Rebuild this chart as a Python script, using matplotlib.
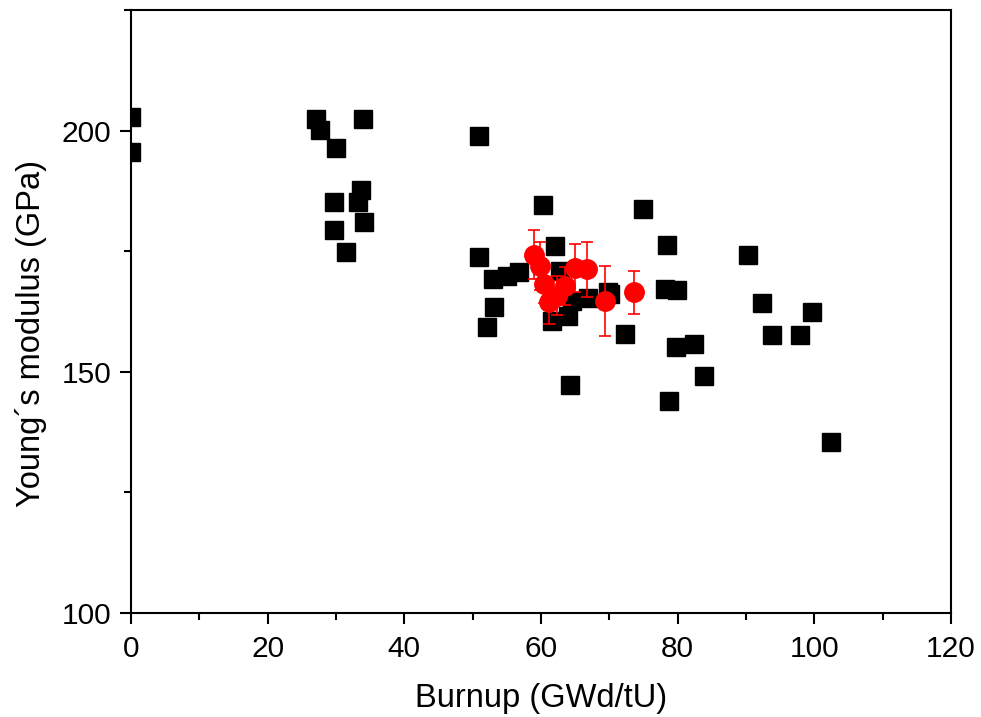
import matplotlib
matplotlib.use("Agg")
import matplotlib.pyplot as plt
from matplotlib.ticker import MultipleLocator

plt.rcParams['font.family'] = ['Liberation Sans', 'DejaVu Sans']

# literature data (black squares)
lit_burnup = [0.0, 0.0, 27.1, 27.7, 30.0, 29.7, 29.7, 31.5, 34.0, 33.2, 33.7, 34.1,
              50.9, 50.9, 52.1, 53.0, 53.1, 55.0, 56.8, 60.3, 62.0, 64.2,
              62.8, 66.9, 69.8, 64.5, 64.0, 61.6, 70.1, 72.3,
              74.9, 78.4, 78.1, 79.9, 78.7, 79.8, 82.4, 83.9,
              90.3, 92.3, 93.8, 97.9, 99.7, 102.4]
lit_modulus = [202.9, 195.6, 202.5, 200.2, 196.3, 185.3, 179.3, 174.9, 202.5, 185.3, 187.6, 181.1,
               198.8, 173.9, 159.3, 169.3, 163.5, 169.9, 170.7, 184.6, 176.1, 147.3,
               171.0, 165.4, 166.5, 164.7, 161.6, 160.6, 166.1, 157.8,
               183.8, 176.3, 167.2, 167.0, 144.0, 155.2, 155.8, 149.2,
               174.3, 164.3, 157.7, 157.7, 162.4, 135.5]

# this work (red circles with error bars)
new_burnup = [58.9, 59.9, 60.4, 61.1, 62.3, 63.5, 65.0, 66.8, 69.4, 73.6]
new_modulus = [174.3, 172.0, 168.2, 164.4, 165.8, 167.8, 171.6, 171.3, 164.7, 166.5]
new_err = [5.0, 5.0, 4.0, 4.5, 4.0, 4.0, 5.0, 5.7, 7.2, 4.5]

fig = plt.figure(figsize=(9.81, 7.17), dpi=100)
ax = fig.add_axes([0.1335, 0.145, 0.836, 0.841])

ax.plot(lit_burnup, lit_modulus, 's', color='black', markersize=12.5, zorder=2)
ax.errorbar(new_burnup, new_modulus, yerr=new_err, fmt='o', color='red',
            ecolor='red', elinewidth=1.2, capsize=4.5, capthick=1.2,
            markersize=14, zorder=3)

ax.set_xlim(0, 120)
ax.set_ylim(100, 225)
ax.xaxis.set_major_locator(MultipleLocator(20))
ax.xaxis.set_minor_locator(MultipleLocator(10))
ax.yaxis.set_major_locator(MultipleLocator(50))
ax.yaxis.set_minor_locator(MultipleLocator(25))
ax.tick_params(which='major', direction='out', length=8, width=1.5, labelsize=21.5)
ax.tick_params(which='minor', direction='out', length=5, width=1.5)
ax.tick_params(axis='x', which='major', pad=8)
ax.tick_params(axis='y', which='major', pad=6)
for s in ax.spines.values():
    s.set_linewidth(1.5)

ax.set_xlabel('Burnup (GWd/tU)', fontsize=23.5, labelpad=14)
ax.set_ylabel('Young\u00b4s modulus (GPa)', fontsize=23.5)
ax.yaxis.set_label_coords(-0.102, 0.463)

fig.savefig('out.png', dpi=100)
